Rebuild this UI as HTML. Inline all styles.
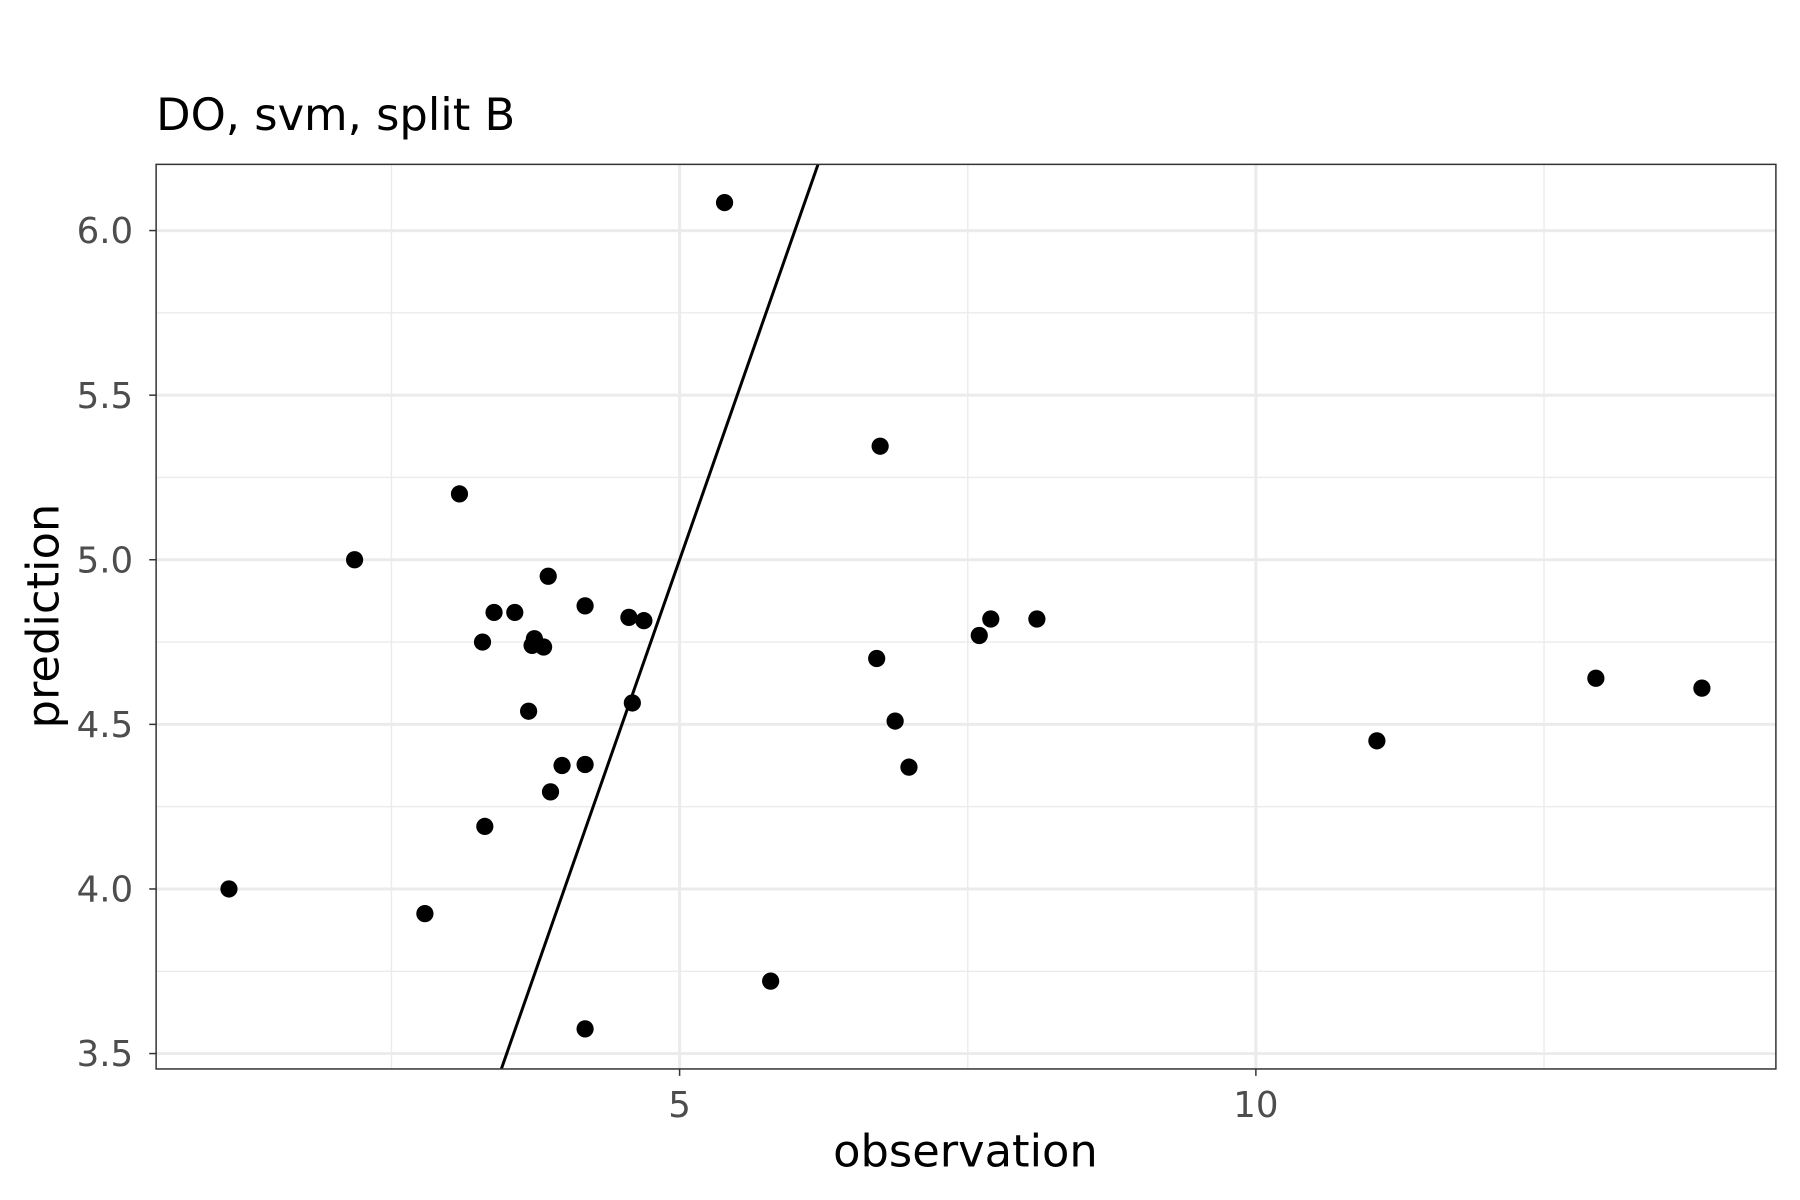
<!DOCTYPE html>
<html><head><meta charset="utf-8"><style>
html,body{margin:0;padding:0;background:#fff;}
svg{display:block;font-family:"DejaVu Sans","Liberation Sans",sans-serif;}
</style></head><body>
<svg id="chart" width="1800" height="1200" viewBox="0 0 1568 1044" preserveAspectRatio="none" xmlns="http://www.w3.org/2000/svg">
<rect width="1568" height="1044" fill="#fff"/>
<text x="136" y="113" font-size="39" fill="#000">DO, svm, split B</text>
<g id="grid"></g>
<g id="line"></g>
<g id="points"></g>
<rect x="136" y="143" width="1411" height="787" fill="none" stroke="#333" stroke-width="1.3"/>
<g id="axes"></g>
<text x="841" y="1015" font-size="39" text-anchor="middle" fill="#000">observation</text>
<text transform="translate(51,536) rotate(-90)" font-size="39" text-anchor="middle" fill="#000">prediction</text>
</svg>
<script>
const obs = [1.09,2.18,2.79,3.09,3.29,3.31,3.39,3.57,3.69,3.72,3.74,3.82,3.86,3.88,3.98,4.18,4.18,4.18,4.56,4.59,4.69,5.39,5.79,6.71,6.74,6.87,6.99,7.60,7.70,8.10,11.05,12.95,13.87];
const pred = [4.00,5.00,3.925,5.20,4.75,4.19,4.84,4.84,4.54,4.74,4.76,4.735,4.95,4.295,4.375,4.86,4.378,3.575,4.825,4.565,4.815,6.085,3.72,4.70,5.345,4.51,4.37,4.77,4.82,4.82,4.45,4.64,4.61];
const xMajor = [5,10];
const xMinor = [2.5,7.5,12.5];
const yMajor = [3.5,4.0,4.5,5.0,5.5,6.0];
const yMinor = [3.75,4.25,4.75,5.25,5.75];
const xDomain = [0.458,14.512];
const yDomain = [3.4532,6.2011];
const L=136,R=1547,T=143,B=930;
const sx=v=>L+(v-xDomain[0])/(xDomain[1]-xDomain[0])*(R-L);
const sy=v=>B-(v-yDomain[0])/(yDomain[1]-yDomain[0])*(B-T);
const NS='http://www.w3.org/2000/svg';
function mk(tag,attrs,parent){const e=document.createElementNS(NS,tag);for(const k in attrs)e.setAttribute(k,attrs[k]);parent.appendChild(e);return e;}
const grid=document.getElementById('grid');
xMinor.forEach(v=>{const e=mk('line',{x1:sx(v),x2:sx(v),y1:T,y2:B,stroke:'#ebebeb','stroke-width':1.2},grid);

});
yMinor.forEach(v=>{const e=mk('line',{x1:L,x2:R,y1:sy(v),y2:sy(v),stroke:'#ebebeb','stroke-width':1.2},grid);

});
xMajor.forEach(v=>{const e=mk('line',{x1:sx(v),x2:sx(v),y1:T,y2:B,stroke:'#ebebeb','stroke-width':2.6},grid);

});
yMajor.forEach(v=>{const e=mk('line',{x1:L,x2:R,y1:sy(v),y2:sy(v),stroke:'#ebebeb','stroke-width':2.6},grid);

});
const lo=Math.max(xDomain[0],yDomain[0]), hi=Math.min(xDomain[1],yDomain[1]);
const ln=mk('line',{x1:sx(lo),y1:sy(lo),x2:sx(hi),y2:sy(hi),stroke:'#000','stroke-width':2.6},document.getElementById('line'));


const pts=document.getElementById('points');
obs.forEach((v,i)=>{const c=mk('circle',{cx:sx(v),cy:sy(pred[i]),r:7.5,fill:'#000'},pts);

});
const ax=document.getElementById('axes');
xMajor.forEach(v=>{mk('line',{x1:sx(v),x2:sx(v),y1:B,y2:B+6,stroke:'#333','stroke-width':1.3},ax);
const t=mk('text',{x:sx(v),y:B+42,'font-size':31,'text-anchor':'middle',fill:'#4d4d4d'},ax);t.textContent=String(v);

});
yMajor.forEach(v=>{mk('line',{x1:L-6,x2:L,y1:sy(v),y2:sy(v),stroke:'#333','stroke-width':1.3},ax);
const t=mk('text',{x:L-20,y:sy(v)+11,'font-size':31,'text-anchor':'end',fill:'#4d4d4d'},ax);t.textContent=v.toFixed(1);

});
</script>
</body></html>
